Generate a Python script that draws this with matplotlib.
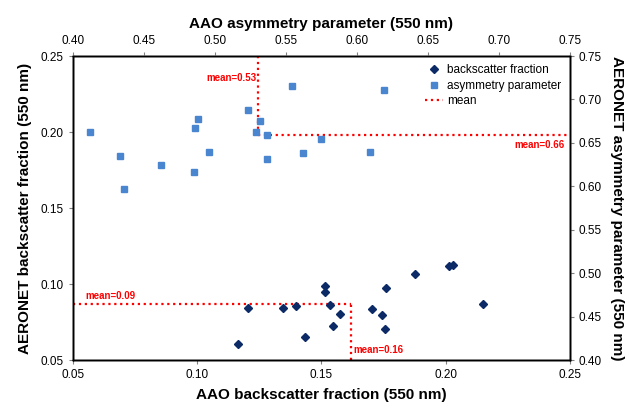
import numpy as np
import matplotlib
matplotlib.use('Agg')
import matplotlib.pyplot as plt
from matplotlib.ticker import FormatStrFormatter

plt.rcParams['font.family'] = ['Liberation Sans', 'DejaVu Sans']

# AAO vs AERONET backscatter fraction (550 nm)
bsf_aao = [0.1164, 0.1203, 0.1345, 0.1399, 0.1435, 0.1514, 0.1513, 0.1533, 0.1574,
           0.1548, 0.1702, 0.1742, 0.1754, 0.1760, 0.1878, 0.2013, 0.2030, 0.2149]
bsf_aeronet = [0.0603, 0.0840, 0.0840, 0.0853, 0.0651, 0.0989, 0.0945, 0.0860, 0.0801,
               0.0722, 0.0838, 0.0798, 0.0702, 0.0976, 0.1064, 0.1116, 0.1125, 0.0868]

# AAO vs AERONET asymmetry parameter (550 nm)
g_aao = [0.412, 0.433, 0.436, 0.462, 0.485, 0.486, 0.488, 0.496, 0.523,
         0.529, 0.532, 0.537, 0.537, 0.554, 0.562, 0.575, 0.609, 0.619]
g_aeronet = [0.662, 0.635, 0.597, 0.624, 0.617, 0.667, 0.677, 0.639, 0.688,
             0.663, 0.675, 0.659, 0.632, 0.716, 0.638, 0.655, 0.639, 0.711]

# means as marked on the chart
bsf_mx, bsf_my = 0.162, 0.087
g_mx, g_my = 0.530, 0.659

navy = '#0b2a66'
blue = '#4a86d0'
red = '#ff0000'

fig = plt.figure(figsize=(6.29, 4.08), dpi=100)
ax = fig.add_axes([0.116, 0.1176, 0.790, 0.7451])
yax = ax.twinx()
ax2 = yax.twiny()

# backscatter on bottom/left
h1, = ax.plot(bsf_aao, bsf_aeronet, 'D', color=navy, ms=4.5, mec=navy, zorder=3)
ax.plot([0.05, bsf_mx], [bsf_my, bsf_my], ':', color=red, lw=1.6)
ax.plot([bsf_mx, bsf_mx], [0.05, bsf_my], ':', color=red, lw=1.6)
ax.text(0.055, bsf_my + 0.0015, 'mean=%.2f' % bsf_my, color=red, fontsize=7,
        fontweight='bold', va='bottom', ha='left')
ax.text(bsf_mx + 0.001, 0.0535, 'mean=%.2f' % bsf_mx, color=red, fontsize=7,
        fontweight='bold', va='bottom', ha='left')
ax.set_xlim(0.05, 0.25)
ax.set_ylim(0.05, 0.25)
ax.set_xticks(np.arange(0.05, 0.2501, 0.05))
ax.set_yticks(np.arange(0.05, 0.2501, 0.05))
ax.xaxis.set_major_formatter(FormatStrFormatter('%.2f'))
ax.yaxis.set_major_formatter(FormatStrFormatter('%.2f'))
ax.set_xlabel('AAO backscatter fraction (550 nm)', fontsize=11, fontweight='bold', labelpad=5)
ax.set_ylabel('AERONET backscatter fraction (550 nm)', fontsize=11, fontweight='bold', labelpad=6)

# asymmetry on top/right
h2, = ax2.plot(g_aao, g_aeronet, 's', color=blue, ms=4.5, mec=blue, zorder=3)
h3, = ax2.plot([g_mx, g_mx], [0.75, g_my], ':', color=red, lw=1.6)
ax2.plot([g_mx, 0.75], [g_my, g_my], ':', color=red, lw=1.6)
ax2.text(g_mx - 0.001, 0.725, 'mean=%.2f' % g_mx, color=red, fontsize=7,
         fontweight='bold', va='center', ha='right')
ax2.text(0.746, g_my - 0.006, 'mean=%.2f' % g_my, color=red, fontsize=7,
         fontweight='bold', va='top', ha='right')
ax2.set_xlim(0.40, 0.75)
ax2.set_xticks(np.arange(0.40, 0.7501, 0.05))
ax2.xaxis.set_major_formatter(FormatStrFormatter('%.2f'))
ax2.set_xlabel('AAO asymmetry parameter (550 nm)', fontsize=11, fontweight='bold', labelpad=5)

yax.set_ylim(0.40, 0.75)
yax.set_yticks(np.arange(0.40, 0.7501, 0.05))
yax.yaxis.set_major_formatter(FormatStrFormatter('%.2f'))
yax.set_ylabel('AERONET asymmetry parameter (550 nm)', fontsize=11, fontweight='bold',
               rotation=-90, va='bottom', labelpad=6)

for a in fig.axes:
    a.tick_params(labelsize=8.5, direction='out', length=3, width=0.8, color='#808080')
    for s in a.spines.values():
        s.set_linewidth(1.0)

ax2.legend([h1, h2, h3], ['backscatter fraction', 'asymmetry parameter', 'mean'],
           loc='upper right', frameon=False, fontsize=8.5, handlelength=1.5,
           handletextpad=0.4, borderaxespad=0.3, labelspacing=0.3)

fig.savefig('out.png', dpi=100)
